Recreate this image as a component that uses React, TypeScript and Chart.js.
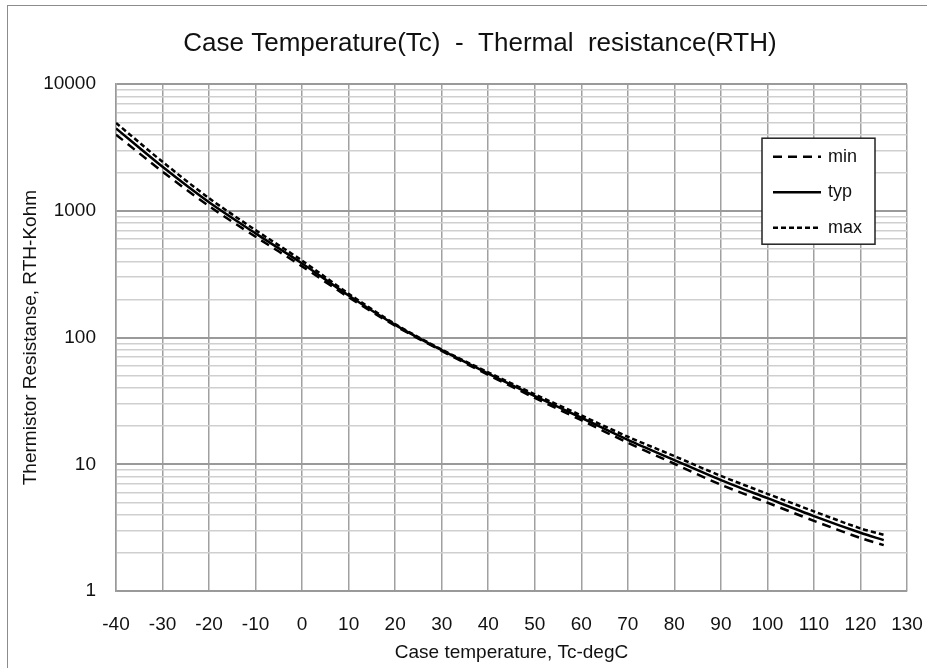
import React, { useEffect, useRef } from 'react';
import { Chart, registerables } from 'chart.js';

Chart.register(...registerables);

const temps = [-40, -30, -20, -10, 0, 10, 20, 30, 40, 50, 60, 70, 80, 90, 100, 110, 120, 125];
const minValues = [4000, 2040, 1090, 625, 365, 208, 124, 78.5, 50.8, 33.4, 22.3, 14.8, 10.1, 6.9, 4.98, 3.58, 2.62, 2.3];
const typValues = [4480, 2230, 1170, 665, 385, 215, 126, 79.5, 52, 34.5, 23.3, 15.6, 10.8, 7.5, 5.4, 3.9, 2.88, 2.52];
const maxValues = [4950, 2440, 1260, 705, 405, 222, 128, 80.5, 53.2, 35.7, 24.3, 16.5, 11.6, 8.1, 5.85, 4.25, 3.12, 2.78];
const seriesLabels = ['min', 'typ', 'max'];
const yDecades = [1, 10, 100, 1000, 10000];
const xMin = -40;
const xMax = 130;
const xStep = 10;

const titleText = 'Case Temperature(Tc)  -  Thermal  resistance(RTH)';
const xTitle = 'Case temperature, Tc-degC';
const yTitle = 'Thermistor Resistanse, RTH-Kohm';

const FONT = '"Liberation Sans", Arial, sans-serif';

const boxLegend = {
  id: 'boxLegend',
  afterLayout(chart: any) {
    // nudge the title block so its centre matches the reference
    if (chart.titleBlock) chart.titleBlock.left += 13;
  },
  afterDraw(chart: any) {
    const { ctx, chartArea } = chart;
    const w = 113;
    const h = 106;
    const x0 = chartArea.right - 145;
    const y0 = chartArea.top + 54;
    ctx.save();
    ctx.fillStyle = '#ffffff';
    ctx.fillRect(x0, y0, w, h);
    ctx.strokeStyle = '#222222';
    ctx.lineWidth = 1.5;
    ctx.strokeRect(x0, y0, w, h);
    chart.data.datasets.forEach((ds: any, i: number) => {
      const cy = y0 + 18.5 + i * 35.5;
      ctx.setLineDash(ds.borderDash || []);
      ctx.lineWidth = ds.borderWidth;
      ctx.strokeStyle = ds.borderColor;
      ctx.beginPath();
      ctx.moveTo(x0 + 11, cy);
      ctx.lineTo(x0 + 59, cy);
      ctx.stroke();
      ctx.setLineDash([]);
      ctx.fillStyle = '#111111';
      ctx.font = '18px ' + FONT;
      ctx.textBaseline = 'middle';
      ctx.textAlign = 'left';
      ctx.fillText(ds.label, x0 + 66, cy);
    });
    ctx.restore();
  },
};

export default function App() {
  const ref = useRef<HTMLCanvasElement>(null);

  useEffect(() => {
    if (!ref.current) return;
    const mk = (vals: number[]) => temps.map((t, i) => ({ x: t, y: vals[i] }));
    const dashes: number[][] = [[9, 6], [], [5, 3]];
    const series = [minValues, typValues, maxValues];
    const isDecade = (v: number) => yDecades.includes(v);

    const chart = new Chart(ref.current, {
      type: 'line',
      data: {
        datasets: series.map((vals, i) => ({
          label: seriesLabels[i],
          data: mk(vals),
          borderColor: '#000000',
          backgroundColor: '#000000',
          borderWidth: 2.5,
          borderDash: dashes[i],
          pointRadius: 0,
          tension: 0.3,
          fill: false,
        })),
      },
      options: {
        responsive: false,
        animation: false,
        devicePixelRatio: 1,
        layout: { padding: { left: 40, right: 20, top: 0, bottom: 0 } },
        plugins: {
          legend: { display: false },
          tooltip: { enabled: false },
          title: {
            display: true,
            text: titleText,
            color: '#111111',
            font: { family: FONT, size: 26, weight: 'normal' },
            padding: { top: 28, bottom: 25 },
          },
        },
        scales: {
          x: {
            type: 'linear',
            min: xMin,
            max: xMax,
            ticks: {
              stepSize: xStep,
              color: '#111111',
              font: { family: FONT, size: 19 },
              padding: 0,
              maxRotation: 0,
            },
            grid: {
              color: '#a0a0a0',
              lineWidth: 1.5,
              drawTicks: true,
              tickLength: 22,
              tickColor: 'rgba(0,0,0,0)',
            },
            border: { color: '#999999', width: 1.5 },
            title: {
              display: true,
              text: xTitle,
              color: '#111111',
              font: { family: FONT, size: 19 },
              padding: { top: 0, bottom: 4 },
            },
            afterFit: (s: any) => {
              s.height = 77;
            },
          },
          y: {
            type: 'logarithmic',
            min: 1,
            max: 10000,
            afterBuildTicks: (s: any) => {
              const t: any[] = [];
              for (let d = 0; d < yDecades.length; d++) {
                const base = yDecades[d];
                if (d === yDecades.length - 1) {
                  t.push({ value: base });
                } else {
                  for (let m = 1; m <= 9; m++) t.push({ value: base * m });
                }
              }
              s.ticks = t;
            },
            ticks: {
              autoSkip: false,
              color: '#111111',
              font: { family: FONT, size: 19 },
              padding: 20,
              callback: (v: any) => (isDecade(Number(v)) ? String(v) : ''),
            },
            grid: {
              drawTicks: false,
              color: (c: any) => (c.tick && isDecade(c.tick.value) ? '#9a9a9a' : '#cfcfcf'),
              lineWidth: (c: any) => (c.tick && isDecade(c.tick.value) ? 2 : 1.5),
            },
            border: { color: '#999999', width: 1.5 },
            title: {
              display: true,
              text: yTitle,
              color: '#111111',
              font: { family: FONT, size: 19 },
              padding: { top: -21, bottom: 0 },
            },
            afterFit: (s: any) => {
              s.width = 76;
            },
          },
        },
      },
      plugins: [boxLegend],
    } as any);
    return () => chart.destroy();
  }, []);

  return (
    <div style={{ position: 'fixed', left: 0, top: 0, width: 927, height: 668, overflow: 'hidden', background: '#ffffff' }}>
      <div
        style={{
          position: 'absolute',
          left: 7,
          top: 5,
          width: 960,
          height: 700,
          border: '1px solid #8c8c8c',
        }}
      />
      <canvas ref={ref} width={927} height={668} style={{ position: 'absolute', left: 0, top: 0, width: 927, height: 668 }} />
    </div>
  );
}
